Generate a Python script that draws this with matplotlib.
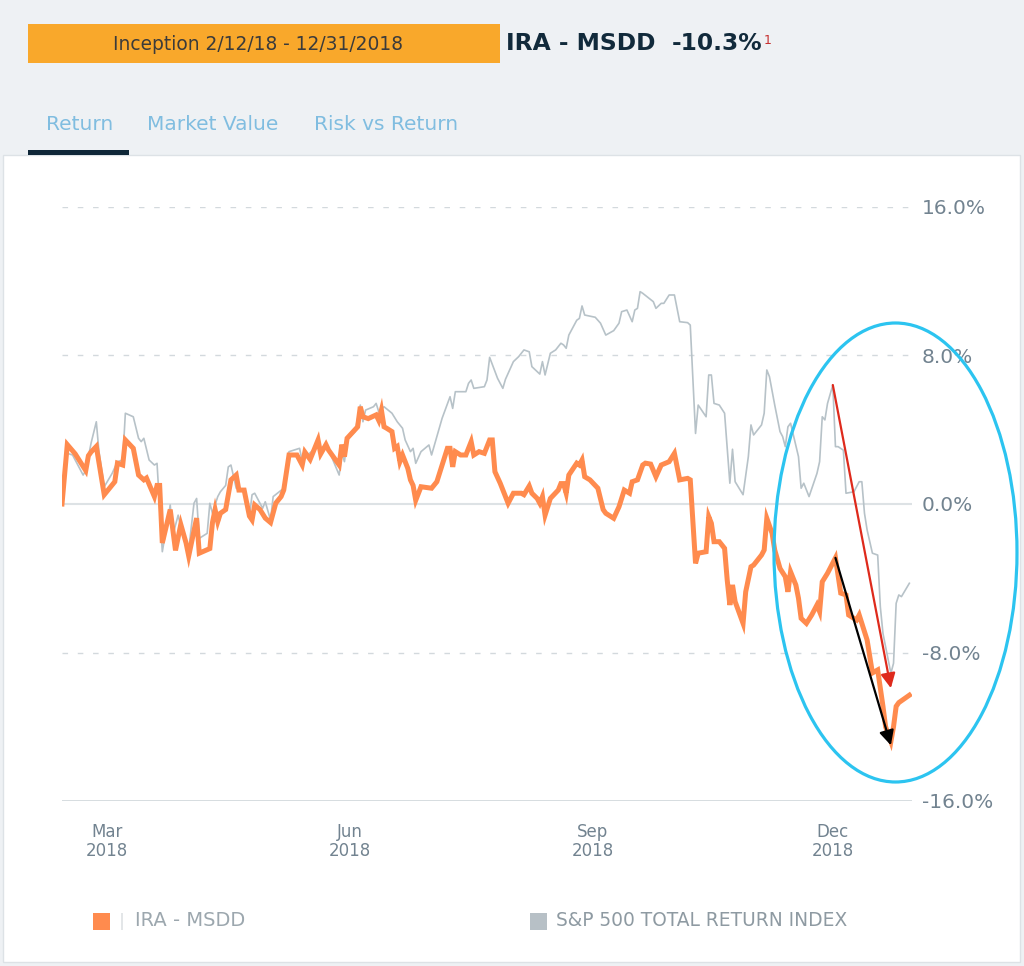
import matplotlib
matplotlib.use("Agg")
import matplotlib.pyplot as plt
import matplotlib.dates as mdates
from matplotlib.patches import Rectangle, Ellipse
import numpy as np
import pandas as pd

# account inception and chart window
inception = "2018-02-12"
end_date = "2018-12-31"

# IRA - MSDD cumulative return (%), days since inception
ira_day = [0, 2, 5, 9, 10, 11, 13, 16, 20, 21, 23, 24, 27, 29, 31, 32, 35, 36, 37, 38,
           41, 43, 45, 47, 48, 51, 52, 56, 57, 58, 59, 60, 62, 64, 66, 67, 69, 71, 72, 73,
           75, 77, 79, 81, 83, 84, 86, 89, 91, 92, 94, 97, 98, 100, 101, 105, 106, 107, 108, 111,
           112, 113, 114, 116, 119, 120, 121, 122, 123, 125, 126, 127, 128, 129, 131, 132, 133, 134, 136, 140,
           142, 144, 146, 147, 148, 149, 151, 153, 155, 156, 158, 160, 162, 163, 164, 166, 169, 171, 174, 175,
           177, 178, 180, 181, 182, 183, 185, 188, 189, 190, 191, 192, 195, 196, 197, 198, 200, 203, 205, 206,
           209, 211, 213, 215, 216, 218, 220, 221, 223, 225, 227, 230, 232, 234, 237, 238, 240, 241, 244, 245,
           246, 247, 249, 251, 252, 253, 254, 255, 258, 259, 261, 262, 265, 266, 267, 269, 270, 272, 274, 275,
           276, 278, 279, 280, 282, 284, 286, 287, 288, 290, 293, 295, 297, 298, 301, 302, 305, 307, 309, 311,
           312, 314, 315, 316, 317, 321]
ira_ret = [0.0, 3.2, 2.7, 1.8, 2.6, 2.8, 3.1, 0.5, 1.2, 2.2, 2.1, 3.45, 3.0, 1.56, 1.3, 1.4, 0.4, 1.0, 1.0, -2.1,
           -0.3, -2.5, -1.1, -2.1, -2.8, -0.76, -2.65, -2.4, -1.0, -0.3, -0.95, -0.5, -0.3, 1.3, 1.56, 0.75, 0.75, -0.65, -0.86, -0.05,
           -0.3, -0.76, -1.0, 0.05, 0.4, 0.75, 2.64, 2.64, 2.1, 2.8, 2.4, 3.45, 2.7, 3.2, 2.9, 2.1, 3.2, 2.55, 3.54, 4.0,
           4.16, 5.24, 4.7, 4.6, 4.8, 4.5, 5.06, 4.16, 4.08, 3.9, 3.0, 3.1, 2.28, 2.64, 1.92, 1.3, 1.0, 0.2, 0.93, 0.85,
           1.2, 2.1, 3.0, 3.0, 2.0, 2.82, 2.64, 2.64, 3.36, 2.64, 2.82, 2.73, 3.45, 3.45, 1.74, 1.12, 0.04, 0.58, 0.58, 0.5,
           0.97, 0.58, 0.3, 0.04, 0.4, -0.6, 0.3, 0.75, 1.1, 1.1, 0.58, 1.56, 2.2, 2.1, 2.37, 1.47, 1.3, 0.85, -0.3, -0.5,
           -0.77, -0.15, 0.75, 0.58, 1.2, 1.3, 2.1, 2.2, 2.15, 1.47, 2.1, 2.28, 2.73, 1.3, 1.38, 1.3, -3.2, -2.65, -2.57, -0.68,
           -1.04, -2.03, -2.03, -2.39, -4.1, -5.44, -4.36, -5.26, -6.43, -4.73, -3.38, -3.29, -2.75, -2.48, -0.77, -1.58, -2.48, -3.47, -3.92, -4.73,
           -3.65, -4.36, -5.08, -6.16, -6.43, -5.98, -5.44, -5.8, -4.19, -3.73, -2.9, -4.8, -4.9, -5.98, -6.25, -5.98, -7.33, -9.1, -8.94, -10.9,
           -12.0, -12.8, -12.0, -10.9, -10.7, -10.3]

# S&P 500 total return index (%), days since inception
spx_day = [0, 2, 4, 8, 9, 11, 13, 14, 16, 19, 21, 23, 24, 27, 29, 30, 31, 33, 35, 36,
           38, 41, 42, 44, 45, 48, 50, 51, 52, 55, 56, 57, 59, 60, 62, 63, 64, 66, 69, 71,
           72, 73, 76, 77, 79, 80, 84, 86, 90, 91, 93, 96, 97, 98, 100, 105, 106, 107, 108, 111,
           113, 114, 115, 118, 119, 120, 122, 125, 127, 129, 130, 132, 133, 134, 136, 139, 140, 142, 144, 147,
           148, 149, 153, 154, 155, 156, 160, 161, 162, 165, 167, 168, 171, 173, 175, 177, 178, 181, 182, 183,
           185, 187, 189, 190, 191, 192, 195, 196, 197, 198, 202, 204, 206, 209, 211, 212, 214, 216, 217, 218,
           219, 220, 224, 225, 227, 228, 230, 232, 234, 237, 238, 240, 241, 244, 245, 246, 247, 249, 251, 253,
           254, 255, 258, 260, 261, 262, 265, 266, 267, 268, 270, 272, 273, 274, 275, 276, 279, 280, 281, 283,
           286, 287, 288, 289, 290, 292, 293, 294, 296, 297, 300, 302, 303, 304, 305, 307, 309, 310, 311, 314,
           315, 316, 317, 318, 321]
spx_ret = [0.0, 2.73, 2.64, 1.56, 1.8, 3.27, 4.43, 2.82, 0.93, 1.65, 2.28, 2.37, 4.89, 4.7, 3.54, 3.36, 3.54, 2.37, 2.1, 2.19,
           -2.57, -0.05, -1.67, -0.6, -1.22, -2.48, 0.04, 0.3, -1.85, -1.58, 0.04, -0.5, 0.4, 0.66, 1.0, 2.0, 2.1, 0.85, 0.75, -0.68,
           0.5, 0.58, -0.23, 0.12, -0.86, 0.4, 0.85, 2.82, 3.0, 2.28, 2.64, 3.0, 3.27, 2.9, 3.27, 1.56, 2.73, 2.28, 3.45, 3.9,
           5.33, 4.43, 5.06, 5.24, 5.42, 4.97, 5.24, 4.89, 4.43, 4.08, 3.45, 2.82, 3.0, 2.19, 2.82, 3.18, 2.64, 3.63, 4.62, 5.78,
           5.15, 6.05, 6.05, 6.5, 6.68, 6.23, 6.32, 6.68, 7.9, 6.77, 6.23, 6.72, 7.67, 7.94, 8.3, 8.2, 7.4, 7.0, 7.67, 6.95,
           8.12, 8.3, 8.66, 8.57, 8.39, 9.1, 9.9, 10.0, 10.67, 10.18, 10.06, 9.74, 9.1, 9.34, 9.74, 10.36, 10.45, 9.82, 10.45, 10.54,
           11.44, 11.35, 10.9, 10.54, 10.81, 10.81, 11.26, 11.26, 9.82, 9.77, 9.64, 3.8, 5.33, 4.7, 6.95, 6.95, 5.42, 5.33, 4.89, 1.12,
           2.95, 1.2, 0.5, 2.55, 4.26, 3.72, 4.26, 4.89, 7.22, 6.86, 5.33, 3.9, 3.63, 3.09, 4.16, 4.35, 2.55, 0.85, 1.12, 0.4,
           1.65, 2.28, 4.7, 4.53, 5.42, 6.41, 3.09, 3.09, 2.9, 0.58, 0.66, 1.2, 1.2, -0.5, -1.4, -2.65, -2.75, -5.53, -6.97, -9.12,
           -8.58, -5.35, -4.9, -4.99, -4.27]

ira_label = "IRA - MSDD"
spx_label = "S&P 500 TOTAL RETURN INDEX"
ira_total = "-10.3%"
y_ticks = [-16, -8, 0, 8, 16]
x_ticks = ["2018-03-01", "2018-06-01", "2018-09-01", "2018-12-01"]
tabs = ["Return", "Market Value", "Risk vs Return"]

W, H = 1024, 966
ORANGE = "#ff8b4e"
GRAY_LINE = "#b7c2c8"
AXIS_TXT = "#728390"


def fx(x):
    return x / W


def fy(y):
    return 1 - y / H


def main():
    start = pd.Timestamp(inception)
    ira_dates = start + pd.to_timedelta(ira_day, unit="D")
    spx_dates = start + pd.to_timedelta(spx_day, unit="D")

    fig = plt.figure(figsize=(W / 100, H / 100), dpi=100, facecolor="#eef1f4")

    # white chart panel
    fig.add_artist(Rectangle((fx(3), fy(962)), fx(1020) - fx(3), fy(155) - fy(962),
                             transform=fig.transFigure, facecolor="white",
                             edgecolor="#dde2e6", lw=1, zorder=0))

    # header
    fig.add_artist(Rectangle((fx(28), fy(63)), fx(500) - fx(28), fy(24) - fy(63),
                             transform=fig.transFigure, facecolor="#f9a82b", edgecolor="none"))
    fig.text(fx(258), fy(44), "Inception 2/12/18 - 12/31/2018", ha="center", va="center",
             fontsize=13.4, color="#3b3b3b")
    fig.text(fx(506), fy(44), ira_label, ha="left", va="center", fontsize=16.8,
             fontweight="bold", color="#112a3b")
    fig.text(fx(672), fy(44), ira_total, ha="left", va="center", fontsize=16.8,
             fontweight="bold", color="#112a3b")
    fig.text(fx(764), fy(40), "1", ha="left", va="center", fontsize=9, color="#c62f2f")

    # tabs
    tab_x = [46, 147, 314]
    for t, x in zip(tabs, tab_x):
        fig.text(fx(x), fy(125), t, ha="left", va="center", fontsize=14.5, color="#80bde0")
    fig.add_artist(Rectangle((fx(28), fy(155)), fx(129) - fx(28), fy(150) - fy(155),
                             transform=fig.transFigure, facecolor="#0f2738", edgecolor="none"))

    # chart
    ax = fig.add_axes([fx(62), fy(801), fx(912) - fx(62), fy(207) - fy(801)])
    ax.set_facecolor("none")
    ax.set_xlim(pd.Timestamp(inception), pd.Timestamp(end_date))
    ax.set_ylim(-16, 16)
    for s in ax.spines.values():
        s.set_visible(False)

    for v in y_ticks:
        if v == 0:
            ax.axhline(v, color="#dde2e5", lw=1.5, zorder=1)
        elif v == -16:
            ax.axhline(v, color="#d3d9dd", lw=2, zorder=1)
        else:
            ax.axhline(v, color="#d3d9dd", lw=1, ls=(0, (4, 7)), zorder=1)

    ax.plot(spx_dates, spx_ret, color=GRAY_LINE, lw=1.2, zorder=2)
    ax.plot(ira_dates, ira_ret, color=ORANGE, lw=3.6, zorder=3, solid_joinstyle="miter")

    ax.yaxis.tick_right()
    ax.set_yticks(y_ticks)
    ax.set_yticklabels([f"{v:.1f}%" for v in y_ticks])
    ax.tick_params(axis="y", length=0, pad=7, labelsize=14.5, labelcolor=AXIS_TXT)
    ax.set_xticks(pd.to_datetime(x_ticks))
    ax.set_xticklabels([pd.Timestamp(d).strftime("%b\n%Y") for d in x_ticks],
                       linespacing=1.05)
    ax.tick_params(axis="x", length=0, pad=16, labelsize=12, labelcolor=AXIS_TXT)

    # arrows: December drop for each series
    spx_d = np.array(spx_day)
    spx_r = np.array(spx_ret)
    dec = spx_d >= 290
    pk = np.argmax(np.where(dec, spx_r, -99))
    lo = np.argmin(spx_r)
    red_from = (mdates.date2num(spx_dates[pk]), spx_r[pk])
    red_to = (mdates.date2num(spx_dates[lo]), spx_r[lo] - 0.8)
    ax.annotate("", xy=red_to, xytext=red_from,
                arrowprops=dict(arrowstyle="-|>", color="#de2a1c", lw=1.6,
                                mutation_scale=22, shrinkA=0, shrinkB=0), zorder=5)

    ira_d = np.array(ira_day)
    ira_r = np.array(ira_ret)
    ipk = np.argmax(np.where(ira_d >= 290, ira_r, -99))
    ilo = np.argmin(ira_r)
    blk_from = (mdates.date2num(ira_dates[ipk]), ira_r[ipk])
    blk_to = (mdates.date2num(ira_dates[ilo]), ira_r[ilo] - 0.2)
    ax.annotate("", xy=blk_to, xytext=blk_from,
                arrowprops=dict(arrowstyle="-|>", color="black", lw=1.6,
                                mutation_scale=22, shrinkA=0, shrinkB=0), zorder=5)

    # highlight circle
    fig.add_artist(Ellipse((fx(895.5), fy(552.5)), fx(243), 459 / H,
                           transform=fig.transFigure, fill=False,
                           edgecolor="#2cc4f0", lw=2.3, zorder=6))

    # legend
    fig.add_artist(Rectangle((fx(93), fy(930)), fx(17), 17 / H, transform=fig.transFigure,
                             facecolor=ORANGE, edgecolor="none"))
    fig.add_artist(Rectangle((fx(121), fy(930)), fx(1.5), 17 / H, transform=fig.transFigure,
                             facecolor="#e3e6e8", edgecolor="none"))
    fig.text(fx(135), fy(921), ira_label, ha="left", va="center", fontsize=14, color="#9ca7ae")
    fig.add_artist(Rectangle((fx(530), fy(930)), fx(17), 17 / H, transform=fig.transFigure,
                             facecolor="#b7c0c6", edgecolor="none"))
    fig.text(fx(556), fy(921), spx_label, ha="left", va="center", fontsize=13.4, color="#8e9aa2")

    fig.savefig("out.png", dpi=100, facecolor=fig.get_facecolor())


if __name__ == "__main__":
    main()
